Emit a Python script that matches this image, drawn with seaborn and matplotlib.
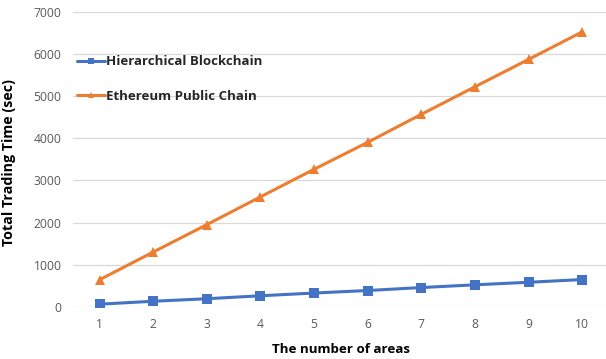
import matplotlib
matplotlib.use("Agg")
import matplotlib.pyplot as plt
import seaborn as sns
import pandas as pd

areas = [1, 2, 3, 4, 5, 6, 7, 8, 9, 10]
hierarchical = [65, 135, 195, 265, 330, 390, 460, 525, 585, 650]
ethereum = [645, 1302, 1952, 2611, 3265, 3905, 4569, 5223, 5872, 6526]
series_names = ["Hierarchical Blockchain", "Ethereum Public Chain"]
y_ticks = [0, 1000, 2000, 3000, 4000, 5000, 6000, 7000]

df = pd.DataFrame({
    "areas": areas * 2,
    "time": hierarchical + ethereum,
    "series": [series_names[0]] * len(areas) + [series_names[1]] * len(areas),
})

sns.set_theme(style="white")
plt.rcParams["font.family"] = ["Open Sans", "DejaVu Sans"]

fig = plt.figure(figsize=(6.06, 3.59), dpi=100)
ax = fig.add_axes([0.12, 0.145, 0.885, 0.822])

palette = {series_names[0]: "#4472C4", series_names[1]: "#ED7D31"}
markers = {series_names[0]: "s", series_names[1]: "^"}
sns.lineplot(data=df, x="areas", y="time", hue="series", style="series",
             palette=palette, markers=markers, dashes=False,
             linewidth=2.2, markersize=6.5, markeredgewidth=0, ax=ax)

ax.set_xlim(0.5, 10.5)
ax.set_ylim(0, 7000)
ax.set_xticks(areas)
ax.set_yticks(y_ticks)
ax.grid(axis="y", color="#D9D9D9", linewidth=0.9)
ax.set_axisbelow(True)
for s in ax.spines.values():
    s.set_visible(False)
ax.tick_params(axis="both", length=0, labelsize=8.7, labelcolor="#595959", pad=8)

ax.set_xlabel("The number of areas", fontsize=9.6, fontweight="bold", color="black")
ax.set_ylabel("Total Trading Time (sec)", fontsize=10.3, fontweight="bold", color="black")
ax.xaxis.set_label_coords(0.5, -0.122)
ax.yaxis.set_label_coords(-0.106, 0.49)

leg = ax.legend(loc="upper left", bbox_to_anchor=(-0.014, 0.893), frameon=False,
                handlelength=2.1, handletextpad=0.1, labelspacing=1.65,
                prop={"weight": "bold", "size": 9.5})
for h in leg.legend_handles:
    h.set_markersize(5)

fig.savefig("out.png", dpi=100)
